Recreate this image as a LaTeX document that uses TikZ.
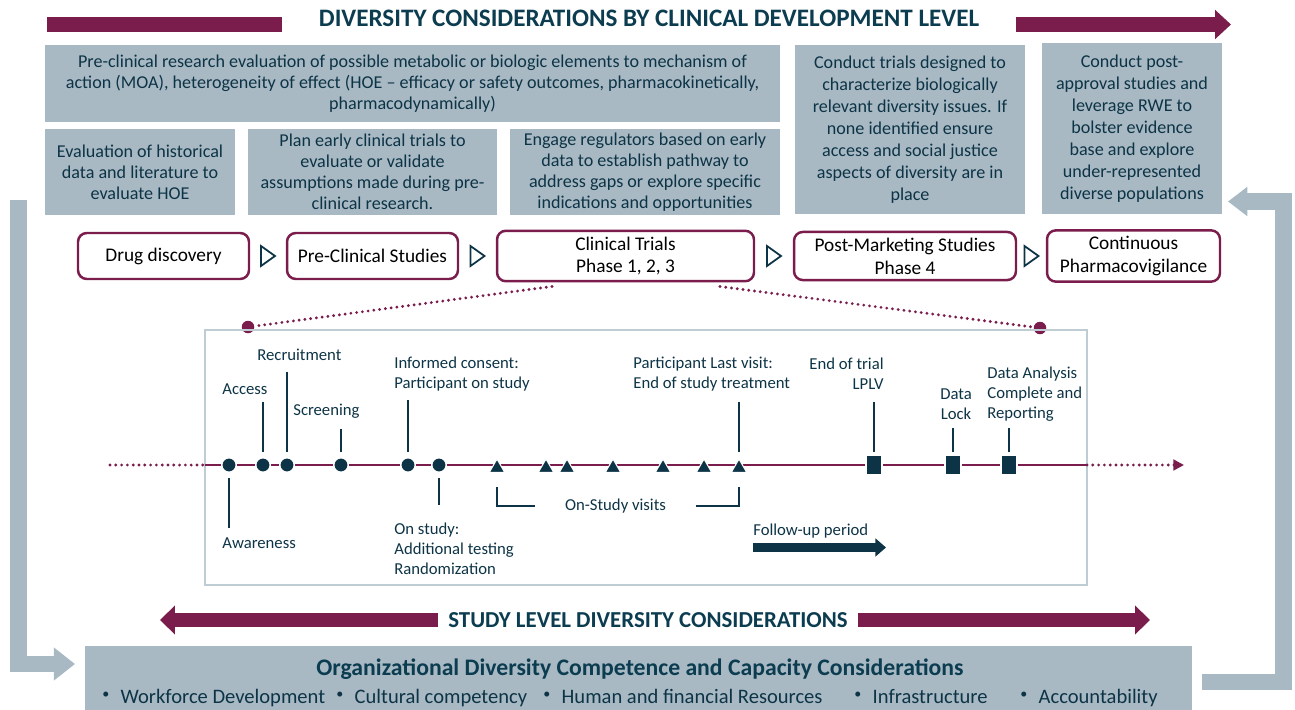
\documentclass[tikz,border=0pt]{standalone}
\usepackage{fontspec}
\setmainfont{Carlito}
\usetikzlibrary{arrows.meta,shapes.geometric}
\definecolor{maroon}{RGB}{122,28,76}
\definecolor{darkteal}{RGB}{13,52,70}
\definecolor{titleteal}{RGB}{12,60,80}
\definecolor{boxgrey}{RGB}{168,185,196}
\definecolor{framegrey}{RGB}{190,204,212}

\begin{document}
\begin{tikzpicture}[x=0.02cm, y=-0.02cm,
    infobox/.style={fill=boxgrey, text=darkteal, align=center, inner sep=2pt, font=\fontsize{10.3}{12}\selectfont},
    stagebox/.style={draw=maroon, line width=1.4pt, rounded corners=5pt, fill=white, align=center, minimum height=0.92cm, font=\fontsize{11}{13}\selectfont},
    chevron/.style={draw=darkteal, line width=1pt, fill=white, line join=miter},
    lbl/.style={text=darkteal, inner sep=0pt, font=\fontsize{9.5}{11.4}\selectfont},
    dotmark/.style={circle, fill=darkteal, draw=white, line width=0.8pt, minimum size=0.29cm, inner sep=0pt},
    trimark/.style={regular polygon, regular polygon sides=3, fill=darkteal, draw=white, line width=0.6pt, minimum size=0.36cm, inner sep=0pt},
    sqmark/.style={rectangle, fill=darkteal, draw=white, line width=0.8pt, minimum width=0.32cm, minimum height=0.4cm, inner sep=0pt},
    tick/.style={darkteal, line width=0.8pt},
    dotline/.style={maroon, line width=1.8pt, line cap=round, dash pattern=on 0pt off 3.3pt},
    zoomdot/.style={circle, fill=maroon, minimum size=0.25cm, inner sep=0pt},
    bigarrow/.style={maroon, line width=8pt},
    loopbar/.style={boxgrey, line width=9.6pt, line join=miter}
]
\useasboundingbox (0,0) rectangle (1295,710);

% Header
\fill[maroon] (47,17) rectangle (282,32);
\node[text=titleteal, font=\fontsize{14.3}{16}\selectfont\bfseries] (title) at (649,18) {DIVERSITY CONSIDERATIONS BY CLINICAL DEVELOPMENT LEVEL};
\draw[bigarrow, -{Triangle[length=9pt,width=16pt]}] (1016,24.5) -- (1231,24.5);

% Grey boxes
\node[infobox, minimum width=14.7cm, minimum height=1.54cm] (precl) at (412.5,83.5) {Pre-clinical research evaluation of possible metabolic or biologic elements to mechanism of\\action (MOA), heterogeneity of effect (HOE – efficacy or safety outcomes, pharmacokinetically,\\pharmacodynamically)};
\node[infobox, minimum width=3.8cm, minimum height=1.72cm] (hist) at (140,172) {Evaluation of historical\\data and literature to\\evaluate HOE};
\node[infobox, minimum width=4.98cm, minimum height=1.72cm] (plan) at (372.5,172) {Plan early clinical trials to\\evaluate or validate\\assumptions made during pre-\\clinical research.};
\node[infobox, minimum width=5.4cm, minimum height=1.72cm] (reg) at (645,172) {Engage regulators based on early\\data to establish pathway to\\address gaps or explore specific\\indications and opportunities};
\node[infobox, minimum width=4.6cm, minimum height=3.38cm, font=\fontsize{10.3}{12.5}\selectfont] (trials) at (910,129.5) {Conduct trials designed to\\characterize biologically\\relevant diversity issues. If\\none identified ensure\\access and social justice\\aspects of diversity are in\\place};
\node[infobox, minimum width=3.6cm, minimum height=3.42cm, font=\fontsize{10.3}{12.5}\selectfont] (rwe) at (1132,128.5) {Conduct post-\\approval studies and\\leverage RWE to\\bolster evidence\\base and explore\\under-represented\\diverse populations};

% Development stages
\node[stagebox, minimum width=3.42cm] (drug) at (163.5,256) {Drug discovery};
\node[stagebox, minimum width=3.42cm] (precs) at (372.5,256) {Pre-Clinical Studies};
\node[stagebox, minimum width=5.14cm] (clin) at (625.5,256) {Clinical Trials\\Phase 1, 2, 3};
\node[stagebox, minimum width=4.44cm] (post) at (905,256) {Post-Marketing Studies\\Phase 4};
\node[stagebox, minimum width=3.46cm] (pv) at (1133.5,256) {Continuous\\Pharmacovigilance};
\foreach \a/\b in {drug/precs, precs/clin, clin/post, post/pv} {
    \path (\a.east) -- (\b.west) coordinate[midway] (gap);
    \draw[chevron] (gap) ++(-7,-10) -- ++(14,10) -- ++(-14,10) -- cycle;
}

% Zoom into clinical trials
\node[zoomdot] (zoomL) at (248,327) {};
\node[zoomdot] (zoomR) at (1040,328) {};
\draw[dotline] ([xshift=-1.47cm,yshift=-0.08cm]clin.south) -- (zoomL);
\draw[dotline] ([xshift=1.89cm,yshift=-0.08cm]clin.south) -- (zoomR);
\draw[framegrey, line width=0.9pt] (205,330) rectangle (1087,585);

% Timeline
\draw[dotline] (110,465) -- (205,465);
\draw[maroon, line width=1.7pt] (205,465) -- (1087,465);
\draw[dotline, -{Triangle[length=6pt,width=6pt]}] (1087,465) -- (1184,465);
\foreach \n/\x in {aware/229, access/263, recruit/287, screen/341, consent/408, onstudy/439}
    \node[dotmark] (\n) at (\x,465) {};
\foreach \n/\x in {v1/497, v2/546, v3/567, v4/613, v5/663, v6/704, v7/739}
    \node[trimark] (\n) at (\x,468) {};
\foreach \n/\x in {endtrial/874, lock/953, analysis/1009}
    \node[sqmark] (\n) at (\x,465) {};

% Ticks and labels
\foreach \n/\t in {access/402, recruit/372, screen/429, consent/400, v7/402, endtrial/402, lock/428, analysis/428}
    \draw[tick] (\n |- 0,452) -- (\n |- 0,\t);
\draw[tick] (aware |- 0,478) -- (aware |- 0,528);
\draw[tick] (onstudy |- 0,478) -- (onstudy |- 0,505);
\node[lbl, anchor=west] (awarelbl) at (222,543) {Awareness};
\node[lbl, anchor=west] (accesslbl) at (222,389) {Access};
\node[lbl, anchor=west] (recruitlbl) at (257,355) {Recruitment};
\node[lbl, anchor=west] (screenlbl) at (293,411) {Screening};
\node[lbl, anchor=west, align=left] (consentlbl) at (394,374) {Informed consent:\\Participant on study};
\node[lbl, anchor=west, align=left] (onstudylbl) at (394,549) {On study:\\Additional testing\\Randomization};
\node[lbl, anchor=west, align=left] (lastlbl) at (633,374) {Participant Last visit:\\End of study treatment};
\node[lbl, anchor=east, align=right] (endlbl) at (884,374) {End of trial\\LPLV};
\node[lbl, align=center] (locklbl) at (956,404) {Data\\Lock};
\node[lbl, anchor=west, align=left] (analysislbl) at (987,394) {Data Analysis\\Complete and\\Reporting};
\node[lbl, inner xsep=0.6cm] (visits) at (615.5,506) {On-Study visits};
\draw[tick] (v1 |- 0,487) |- (visits.west);
\draw[tick] (visits.east) -| (v7 |- 0,487);
\node[lbl, anchor=west] (followlbl) at (753,531) {Follow-up period};
\draw[darkteal, line width=5pt, -{Triangle[length=6pt,width=10pt]}] (followlbl.south west) ++(0,9) -- ++(133,0);

% Study level arrow
\draw[bigarrow, {Triangle[length=8.5pt,width=16pt]}-{Triangle[length=8.5pt,width=16pt]}] (160,620) -- (1150,620);
\node[fill=white, inner xsep=0.2cm, text=titleteal, font=\fontsize{13}{15}\selectfont\bfseries] (studylvl) at (648,620) {STUDY LEVEL DIVERSITY CONSIDERATIONS};

% Organizational box
\node[fill=boxgrey, minimum width=22.14cm, minimum height=1.32cm] (orgbox) at (638.5,679) {};
\node[text=titleteal, font=\fontsize{13.5}{15}\selectfont\bfseries] (orgtitle) at (640,669) {Organizational Diversity Competence and Capacity Considerations};
\foreach \x/\t [count=\i] in {102/Workforce Development, 336/Cultural competency, 543/Human and financial Resources, 854/Infrastructure, 1020/Accountability}
    \node[text=darkteal, anchor=base west, inner sep=0pt, font=\fontsize{11.7}{14}\selectfont] (item\i) at (\x,703) {\raisebox{0.22em}{\fontsize{8}{8}\selectfont\textbullet}\hspace{0.55em}\t};

% Feedback loops
\coordinate (loopLtop) at (18.5,200);
\coordinate (loopLend) at (75,664);
\coordinate (loopRstart) at (1202,682);
\coordinate (loopRturn) at (1283.5,201.5);
\coordinate (loopRend) at (1228,201.5);
\draw[loopbar, -{Triangle[length=12pt,width=18pt]}] (loopLtop) |- (loopLend);
\draw[loopbar, -{Triangle[length=11pt,width=16pt]}] (loopRstart) -| (loopRturn) -- (loopRend);
\end{tikzpicture}
\end{document}
